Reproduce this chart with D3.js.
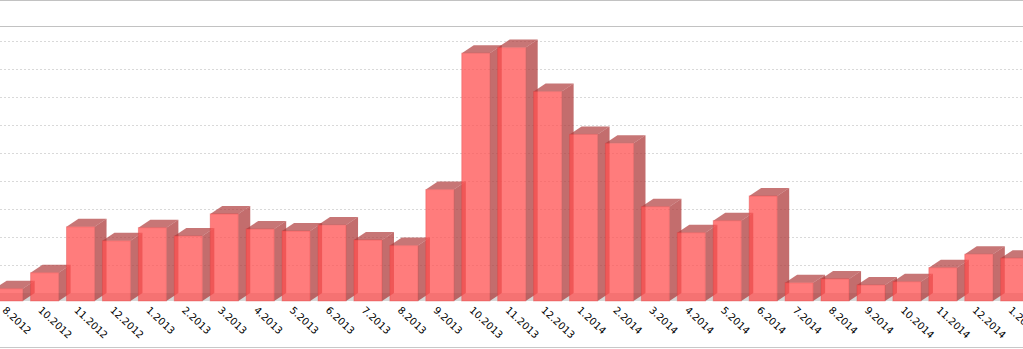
<!DOCTYPE html>
<html>
<head>
<meta charset="utf-8">
<script src="https://cdn.jsdelivr.net/npm/d3@7"></script>
<style>
  body { margin: 0; background: #fff; }
  svg { display: block; }
</style>
</head>
<body>
<svg id="chart" width="1023" height="349"></svg>
<script>
// monthly values (grid step = 10)
const months = ['8.2012', '10.2012', '11.2012', '12.2012', '1.2013', '2.2013', '3.2013', '4.2013',
    '5.2013', '6.2013', '7.2013', '8.2013', '9.2013', '10.2013', '11.2013', '12.2013', '1.2014',
    '2.2014', '3.2014', '4.2014', '5.2014', '6.2014', '7.2014', '8.2014', '9.2014', '10.2014',
    '11.2014', '12.2014', '1.2015'];
const counts = [4.4, 10.1, 26.5, 21.5, 26.2, 23.2, 31.1, 25.7, 25, 27.1, 21.8, 19.8, 39.8,
    88.5, 90.5, 74.8, 59.5, 56.3, 33.7, 24.4, 28.7, 37.5, 6.5, 7.9, 5.7, 6.9, 11.9, 16.7, 15.3];
const gridTicks = [10, 20, 30, 40, 50, 60, 70, 80, 90];

const data = months.map((m, i) => ({ month: m, value: counts[i] }));

const W = 1023, H = 349;
const dx = 12, dy = 8; // 3d depth

const svg = d3.select('#chart');

const x = d3.scaleBand()
    .domain(months)
    .range([-9.3, -9.3 + 29 * 35.93])
    .paddingInner(0.22)
    .paddingOuter(0.11);
const y = d3.scaleLinear().domain([0, 100]).range([301, 21]);

// frame lines
svg.append('line').attr('x1', 0).attr('x2', W).attr('y1', 0.5).attr('y2', 0.5)
    .attr('stroke', '#c2c2c2');
svg.append('line').attr('x1', 0).attr('x2', W).attr('y1', 26.5).attr('y2', 26.5)
    .attr('stroke', '#c2c2c2');
svg.append('line').attr('x1', 0).attr('x2', W).attr('y1', 347.5).attr('y2', 347.5)
    .attr('stroke', '#c8c8c8');

// grid on the back wall
svg.append('g')
    .selectAll('line')
    .data(gridTicks)
    .enter()
    .append('line')
    .attr('x1', 0)
    .attr('x2', W)
    .attr('y1', (d) => Math.round(y(d) - dy) + 0.5)
    .attr('y2', (d) => Math.round(y(d) - dy) + 0.5)
    .attr('stroke', '#d9d9d9')
    .attr('stroke-dasharray', '2,2');

// floor
svg.append('polygon')
    .attr('points', [[-20, y(0)], [-20 + dx, y(0) - dy], [W + dx, y(0) - dy], [W, y(0)]].join(' '))
    .attr('fill', '#d6d6d6');

const bars = svg.append('g')
    .selectAll('g')
    .data(data)
    .enter()
    .append('g');

const sideFill = 'rgb(175,60,60)';

// side face
bars.append('polygon')
    .attr('points', (d) => {
        const r = x(d.month) + x.bandwidth(), t = y(d.value), b = y(0);
        return [[r, t], [r + dx, t - dy], [r + dx, b - dy], [r, b]].join(' ');
    })
    .attr('fill', sideFill)
    .attr('fill-opacity', 0.75);

// top face
bars.append('polygon')
    .attr('points', (d) => {
        const l = x(d.month), r = l + x.bandwidth(), t = y(d.value);
        return [[l, t], [l + dx, t - dy], [r + dx, t - dy], [r, t]].join(' ');
    })
    .attr('fill', sideFill)
    .attr('fill-opacity', 0.7);

// front face
bars.append('rect')
    .attr('x', (d) => x(d.month))
    .attr('y', (d) => y(d.value))
    .attr('width', x.bandwidth())
    .attr('height', (d) => y(0) - y(d.value))
    .attr('fill', 'rgb(255,80,80)')
    .attr('fill-opacity', 0.75)
    .attr('stroke', 'rgba(220,60,60,0.35)')
    .attr('stroke-width', 1);

// month labels
svg.append('g')
    .selectAll('text')
    .data(months)
    .enter()
    .append('text')
    .attr('transform', (d) => `translate(${x(d) + x.bandwidth() / 2 - 7},311) rotate(43)`)
    .attr('font-family', 'DejaVu Sans, Verdana, sans-serif')
    .attr('font-size', 10)
    .attr('fill', '#000')
    .text((d) => d);
</script>
</body>
</html>
